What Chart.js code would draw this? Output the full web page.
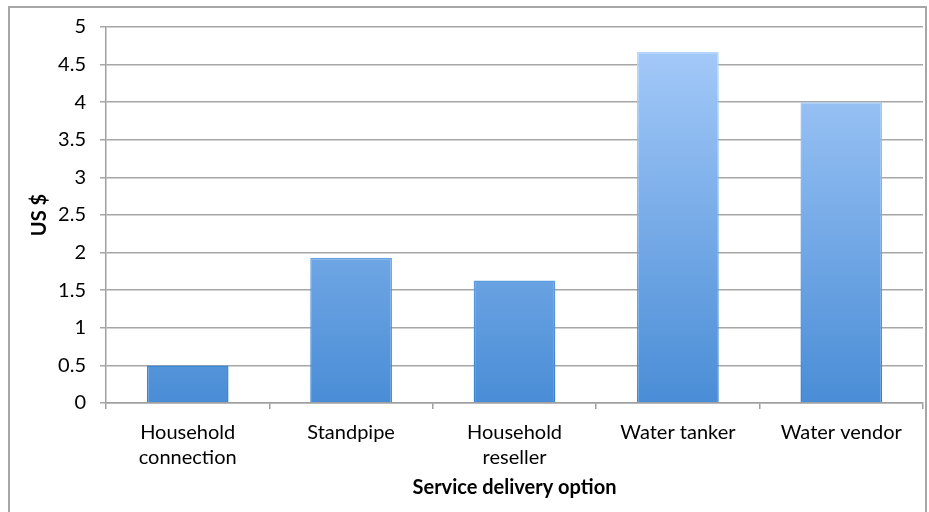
<!DOCTYPE html>
<html>
<head>
<meta charset="utf-8">
<script src="https://cdn.jsdelivr.net/npm/chart.js@4"></script>
<style>
  html, body { margin: 0; padding: 0; background: #fff; }
  #frame { position: absolute; left: 8px; top: 6px; width: 915px; height: 520px; border: 2px solid #a6a6a6; }
  #wrap { position: absolute; left: 0; top: 0; width: 929px; height: 512px; }
</style>
</head>
<body>
<div id="frame"></div>
<div id="wrap"><canvas id="costChart" width="929" height="512"></canvas></div>
<script>
const categories = [['Household', 'connection'], 'Standpipe', ['Household', 'reseller'], 'Water tanker', 'Water vendor'];
const costs = [0.5, 1.93, 1.63, 4.67, 4.0];
const yMin = 0, yMax = 5, yStep = 0.5;

const FONT = 'Lato, "Open Sans", sans-serif';
Chart.defaults.font.family = FONT;
Chart.defaults.color = '#000';

// vertical fill, light at the top and deeper blue at the base
function barFill(context) {
  const area = context.chart.chartArea;
  if (!area) return '#79adea';
  const g = context.chart.ctx.createLinearGradient(0, area.top, 0, area.bottom);
  g.addColorStop(0, '#a9cdfb');
  g.addColorStop(1, '#4a8dd6');
  return g;
}
function barEdge(context) {
  const area = context.chart.chartArea;
  if (!area) return '#5b9be0';
  const g = context.chart.ctx.createLinearGradient(0, area.top, 0, area.bottom);
  g.addColorStop(0, '#bcdcfb');
  g.addColorStop(1, '#2f7fd2');
  return g;
}

new Chart(document.getElementById('costChart'), {
  type: 'bar',
  data: {
    labels: categories,
    datasets: [{
      label: 'US $',
      data: costs,
      backgroundColor: barFill,
      borderColor: barEdge,
      borderWidth: 1.5,
      barPercentage: 0.5,
      categoryPercentage: 1
    }]
  },
  options: {
    responsive: false,
    animation: false,
    layout: { padding: { top: 27, right: 6, left: 0, bottom: 0 } },
    plugins: { legend: { display: false }, tooltip: { enabled: false } },
    scales: {
      x: {
        grid: { display: true, drawOnChartArea: false, drawTicks: true, tickLength: 6, color: '#a0a0a0', lineWidth: 1.5, offset: true },
        border: { color: '#a0a0a0', width: 1.5 },
        ticks: { font: { size: 20, lineHeight: 1.25 }, padding: 11, maxRotation: 0, autoSkip: false },
        title: { display: true, text: 'Service delivery option', font: { size: 20, weight: 'bold' }, padding: { top: 4, bottom: 12 } },
        afterFit: s => { s.height = 109; }
      },
      y: {
        min: yMin,
        max: yMax,
        grid: { color: '#a6a6a6', lineWidth: 1.5, tickLength: 6, drawTicks: true },
        border: { color: '#a0a0a0', width: 1.5 },
        ticks: { stepSize: yStep, font: { size: 20 }, padding: 14, callback: v => String(v) },
        title: { display: true, text: 'US $', font: { size: 20, weight: 'bold' }, padding: { top: 28, bottom: 0 } },
        afterFit: s => { s.width = 106; }
      }
    }
  }
});
</script>
</body>
</html>
